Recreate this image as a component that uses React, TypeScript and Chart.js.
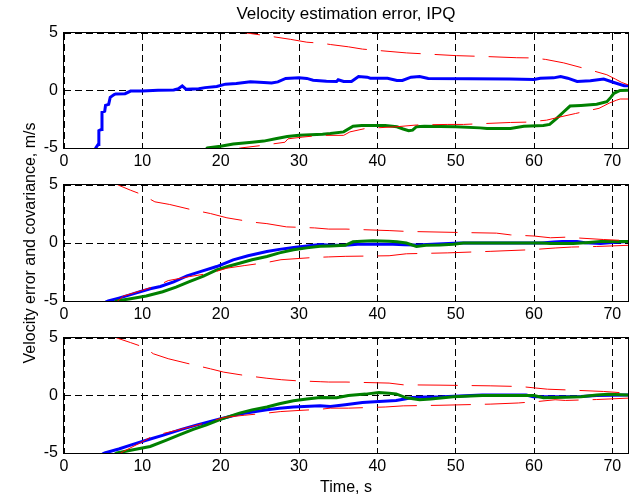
import React, { useEffect, useRef } from "react";
import { Chart, registerables } from "chart.js";

Chart.register(...registerables);

type Pt = [number, number];

const titleText = "Velocity estimation error, IPQ";
const yAxisLabel = "Velocity error and covariance, m/s";
const xAxisLabel = "Time, s";

const xMin = 0;
const xMax = 72;
const xStep = 10;
const yMin = -5;
const yMax = 5;
const yStep = 5;

// ---- Panel 1 ----
const p1Blue: Pt[] = [
  [3.95, -6], [4.05, -5], [4.35, -4.7], [4.45, -3.5], [4.75, -3.4], [4.85, -1.9], [5.2, -1.8], [5.3, -1.3],
  [5.7, -1.2], [5.9, -0.6], [6.4, -0.35], [6.6, -0.3], [7.8, -0.28], [8.5, -0.05], [10, -0.05], [12, 0.02],
  [14, 0.05], [14.6, 0.15], [15.1, 0.4], [15.6, 0.1], [17.2, 0.15], [18, 0.25], [19.5, 0.35], [20.6, 0.55],
  [22, 0.6], [23.8, 0.75], [25.5, 0.7], [26.5, 0.65], [27.3, 0.75], [28.3, 1.05], [30, 1.1], [31, 1.05],
  [31.8, 0.9], [33.5, 0.8], [34.8, 0.78], [35, 0.93], [35.7, 0.78], [36.7, 0.78], [37.6, 1.22], [38.7, 1.16],
  [39.1, 1.07], [41.3, 1.07], [42.5, 0.87], [43.2, 0.87], [44.3, 1.16], [45.4, 1.22], [46.5, 1.05], [56.9, 1.0],
  [60, 0.95], [60.8, 1.07], [62.5, 1.1], [63.4, 1.22], [64.3, 1.07], [65.5, 0.78], [67.2, 0.85], [68.9, 0.99],
  [70.2, 0.7], [71.5, 0.41], [72, 0.41],
];
const p1Green: Pt[] = [
  [18.0, -5.2], [18.3, -5.0], [20, -4.85], [21.6, -4.65], [24, -4.5], [25.5, -4.4], [27, -4.2], [28.5, -4.0],
  [30, -3.9], [31.5, -3.85], [33, -3.8], [34, -3.74], [35.7, -3.6], [36.9, -3.1], [38, -3.05], [41, -3.05],
  [42.5, -3.15], [43.3, -3.35], [44, -3.5], [44.5, -3.45], [45, -3.15], [46, -3.1], [50, -3.15], [53.1, -3.25],
  [54, -3.3], [57, -3.3], [58.7, -3.1], [61.2, -3.05], [62, -2.95], [62.9, -2.43], [63.8, -1.85], [64.6, -1.35],
  [66, -1.3], [68, -1.2], [69.3, -0.97], [69.8, -0.6], [70.2, -0.24], [71, 0], [72, 0.03],
];
const p1RedUp: Pt[] = [
  [20, 5.5], [23.3, 5], [26, 4.75], [28.9, 4.45], [31, 4.2], [33, 4.1], [34, 4.0], [36.3, 3.8], [38.1, 3.6],
  [43.7, 3.27], [50.1, 3.03], [54, 2.95], [57.8, 2.85], [59.9, 2.83], [61.5, 2.7], [63.8, 2.4], [67.1, 1.8],
  [69.3, 1.37], [70.4, 0.99], [71.2, 0.7], [72, 0.5],
];
const p1RedLo: Pt[] = [
  [20, -5.5], [22.5, -5], [25, -4.8], [28.2, -4.5], [28.6, -4.2], [30.5, -4.05], [32.7, -3.9], [35.7, -3.9],
  [36.5, -3.6], [38.5, -3.3], [42.5, -3.15], [45, -3.0], [49, -2.95], [51, -2.95], [57, -2.78], [59, -2.75],
  [61.6, -2.58], [63, -2.35], [65.3, -2.0], [68.3, -1.55], [69.6, -1.1], [70.5, -0.85], [71, -0.74], [72, -0.74],
];

// ---- Panel 2 ----
const p2Blue: Pt[] = [
  [5.3, -5.1], [5.65, -5], [7, -4.75], [8.5, -4.45], [9.7, -4.2], [11, -3.95], [12.3, -3.75], [14, -3.35],
  [15.7, -2.84], [17.5, -2.45], [19.5, -2.03], [21.6, -1.45], [23.5, -1.1], [25.9, -0.73], [27.5, -0.55],
  [29.3, -0.38], [31, -0.25], [32.7, -0.14], [34, -0.2], [36.3, -0.17], [37.5, -0.1], [42, -0.1], [43.5, -0.15],
  [45, -0.17], [47, -0.1], [50.5, 0], [58, 0], [61, 0], [62.5, 0.08], [63.6, 0.14], [65.5, 0.12], [66.5, 0.03],
  [68.5, -0.05], [70, 0.05], [72, 0.12],
];
const p2Green: Pt[] = [
  [6.5, -5.05], [6.7, -5], [8.5, -4.8], [10.5, -4.57], [12.6, -4.2], [14.3, -3.8], [16, -3.33], [17.8, -2.85],
  [19.5, -2.32], [21, -2.0], [22.4, -1.74], [24, -1.45], [25.9, -1.16], [27.5, -0.85], [29.3, -0.58], [31, -0.42],
  [32.7, -0.29], [34, -0.25], [35.9, -0.2], [36.9, 0.1], [38, 0.15], [39.4, 0.2], [41.5, 0.15], [42.5, 0.1],
  [43.7, 0], [45, -0.3], [46.2, -0.2], [48, -0.17], [49.7, -0.1], [51, 0], [61, 0], [62.1, -0.05], [65, -0.05],
  [67, 0.05], [68.5, 0.14], [72, 0.14],
];
const p2RedUp: Pt[] = [
  [5, 5.9], [6.9, 5], [8.5, 4.55], [9.9, 4.19], [11.6, 3.55], [13.5, 3.32], [16.1, 2.9], [18.7, 2.54],
  [20.8, 2.17], [24.2, 1.79], [25.9, 1.67], [28.4, 1.39], [32, 1.3], [33.8, 1.2], [36, 1.2], [41.5, 1.07],
  [43.7, 1.0], [51, 0.9], [55.2, 0.85], [57, 0.7], [60, 0.6], [62.1, 0.45], [64, 0.5], [68.9, 0.3], [72, 0.2],
];
const p2RedLo: Pt[] = [
  [6.5, -5.2], [7.6, -4.57], [9.9, -4.1], [12.2, -3.6], [13.3, -3.24], [16, -2.9], [18.7, -2.6], [20.8, -2.17],
  [23, -1.95], [25.9, -1.68], [27.7, -1.44], [31.8, -1.25], [33.8, -1.2], [35.9, -1.15], [41.5, -1.1],
  [43.7, -0.93], [49, -0.85], [54.4, -0.72], [59.6, -0.58], [62.7, -0.43], [64.8, -0.35], [68, -0.3], [72, -0.2],
];

// ---- Panel 3 ----
const p3Blue: Pt[] = [
  [4.9, -5.1], [5.2, -5], [7, -4.65], [8.6, -4.29], [10.7, -3.85], [12.8, -3.42], [15, -2.95], [17, -2.55],
  [19.9, -2.05], [22.4, -1.62], [25.9, -1.24], [27.5, -1.1], [29.3, -1.0], [32.7, -0.9], [34, -0.95],
  [35.9, -0.8], [38.1, -0.6], [40.2, -0.52], [42.4, -0.43], [43.5, -0.3], [44.5, -0.17], [46, -0.12],
  [48.3, -0.1], [53.4, 0.04], [59, 0.04], [59.9, -0.1], [66, -0.08], [68, 0], [72, 0.04],
];
const p3Green: Pt[] = [
  [6.5, -5.1], [6.75, -5], [9, -4.7], [11, -4.43], [13, -3.9], [14.8, -3.4], [16.5, -2.95], [18.2, -2.55],
  [19.9, -2.1], [22.4, -1.53], [24, -1.25], [25.9, -1.0], [27.5, -0.72], [29.3, -0.46], [31, -0.3],
  [32.7, -0.17], [34.8, -0.2], [36.3, 0], [38.5, 0.12], [40.2, 0.26], [41.5, 0.2], [42.4, 0.14], [43.7, -0.2],
  [45.4, -0.37], [46.8, -0.3], [49.7, -0.1], [53.4, 0], [60, 0], [61.2, -0.2], [64, -0.15], [66, -0.1],
  [68, 0.05], [69.5, 0.1], [72, 0.04],
];
const p3RedUp: Pt[] = [
  [5, 5.8], [6.75, 5], [8.5, 4.6], [10.2, 4.2], [11.4, 3.63], [13.3, 3.2], [15.7, 2.8], [18.7, 2.32],
  [20.4, 2.03], [23, 1.75], [25.9, 1.5], [27.8, 1.37], [29.7, 1.28], [32.7, 1.2], [33.8, 1.17], [36, 1.17],
  [41.5, 1.08], [43.3, 0.93], [48, 0.9], [54.4, 0.84], [58.3, 0.78], [61.7, 0.55], [64, 0.49], [68.9, 0.35],
  [72, 0.2],
];
const p3RedLo: Pt[] = [
  [6.5, -5.3], [7.6, -4.86], [9.5, -4.2], [11.4, -3.5], [13.3, -3.2], [16, -2.75], [18.7, -2.26], [20.4, -1.91],
  [23, -1.72], [25.9, -1.53], [27.6, -1.4], [30, -1.3], [32.7, -1.2], [34, -1.1], [36.3, -1.1], [41, -1.0],
  [43.3, -0.9], [48, -0.85], [54.4, -0.75], [58, -0.65], [60.5, -0.52], [62.7, -0.37], [64, -0.43], [68, -0.35],
  [72, -0.23],
];

const FONT = "'Liberation Sans', Arial, Helvetica, sans-serif";

const boxPlugin = {
  id: "boxPlugin",
  afterDatasetsDraw(chart: any) {
    const { ctx, chartArea } = chart;
    ctx.save();
    ctx.strokeStyle = "#000";
    ctx.lineWidth = 1;
    ctx.setLineDash([]);
    const l = Math.round(chartArea.left) - 0.5;
    const t = Math.round(chartArea.top) - 0.5;
    const r = Math.round(chartArea.right) + 0.5;
    const b = Math.round(chartArea.bottom) + 0.5;
    ctx.strokeRect(l, t, r - l, b - t);
    ctx.restore();
  },
};

function toXY(arr: Pt[]) {
  return arr.map(([x, y]) => ({ x, y }));
}

function Panel(props: {
  top: number;
  height: number;
  padTop: number;
  padBottom: number;
  blue: Pt[];
  green: Pt[];
  redUp: Pt[];
  redLo: Pt[];
}) {
  const ref = useRef<HTMLCanvasElement>(null);
  useEffect(() => {
    if (!ref.current) return;
    const red = (d: Pt[]) => ({
      data: toXY(d),
      borderColor: "#ff0000",
      borderWidth: 1,
      borderDash: [40, 14],
      pointRadius: 0,
      tension: 0,
      clip: 0,
      fill: false,
    });
    const thick = (d: Pt[], c: string) => ({
      data: toXY(d),
      borderColor: c,
      borderWidth: 3,
      pointRadius: 0,
      tension: 0,
      clip: 0,
      fill: false,
    });
    const chart = new Chart(ref.current, {
      type: "line",
      data: {
        datasets: [
          red(props.redUp),
          red(props.redLo),
          thick(props.green, "#008000"),
          thick(props.blue, "#0000ff"),
        ] as any,
      },
      options: {
        animation: false,
        responsive: false,
        devicePixelRatio: 1,
        layout: { padding: { top: props.padTop, right: 7, bottom: props.padBottom, left: 0 } },
        plugins: {
          legend: { display: false },
          tooltip: { enabled: false },
          title: { display: false },
        },
        scales: {
          x: {
            type: "linear",
            min: xMin,
            max: xMax,
            ticks: {
              stepSize: xStep,
              includeBounds: false,
              color: "#000",
              font: { family: FONT, size: 16 },
              padding: 4,
              maxRotation: 0,
              autoSkip: false,
            },
            grid: { color: "#000", lineWidth: 1, drawTicks: false },
            border: { display: false, dash: [7, 4] },
            afterFit: (s: any) => {
              s.height = 30;
            },
          },
          y: {
            type: "linear",
            min: yMin,
            max: yMax,
            ticks: {
              stepSize: yStep,
              color: "#000",
              font: { family: FONT, size: 16 },
              padding: 6,
            },
            grid: { color: "#000", lineWidth: 1, drawTicks: false },
            border: { display: false, dash: [7, 4] },
            afterFit: (s: any) => {
              s.width = 64;
            },
          },
        },
      } as any,
      plugins: [boxPlugin],
    });
    return () => chart.destroy();
  }, []);
  return (
    <canvas
      ref={ref}
      width={635}
      height={props.height}
      style={{ position: "absolute", left: 0, top: props.top, width: 635, height: props.height }}
    />
  );
}

export default function App() {
  const textStyle: React.CSSProperties = {
    position: "absolute",
    fontFamily: FONT,
    fontSize: 16,
    lineHeight: "18px",
    color: "#000",
    whiteSpace: "nowrap",
    textAlign: "center",
  };
  return (
    <div style={{ position: "absolute", left: 0, top: 0, width: 635, height: 496, background: "#fff", overflow: "hidden" }}>
      <Panel top={0} height={180} padTop={33} padBottom={2} blue={p1Blue} green={p1Green} redUp={p1RedUp} redLo={p1RedLo} />
      <Panel top={165} height={170} padTop={20} padBottom={4} blue={p2Blue} green={p2Green} redUp={p2RedUp} redLo={p2RedLo} />
      <Panel top={318} height={178} padTop={20} padBottom={13} blue={p3Blue} green={p3Green} redUp={p3RedUp} redLo={p3RedLo} />
      <div style={{ ...textStyle, fontSize: 17, left: 64, top: 5, width: 564 }}>{titleText}</div>
      <div style={{ ...textStyle, left: 64, top: 478, width: 564 }}>{xAxisLabel}</div>
      <div
        style={{
          ...textStyle,
          left: 30 - 150,
          top: 243 - 9,
          width: 300,
          height: 18,
          transform: "rotate(-90deg)",
          transformOrigin: "50% 50%",
        }}
      >
        {yAxisLabel}
      </div>
    </div>
  );
}
